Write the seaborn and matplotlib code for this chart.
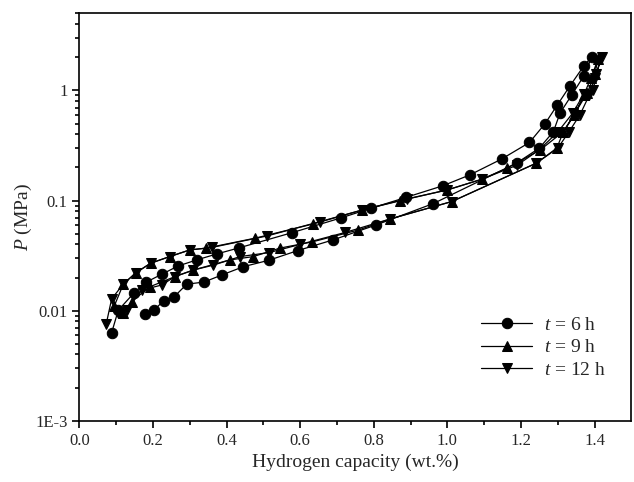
import pandas as pd
import numpy as np
import matplotlib
matplotlib.use('Agg')
import matplotlib.pyplot as plt
import seaborn as sns

# t = 6 h  (absorption branch then desorption branch, in drawing order)
x_6h = [0.088, 0.106, 0.148, 0.181, 0.224, 0.269, 0.319, 0.373, 0.434, 0.579, 0.711,
        0.792, 0.888, 0.987, 1.061, 1.147, 1.223, 1.265, 1.299, 1.333, 1.371, 1.392,
        1.371, 1.338, 1.306, 1.288, 1.250, 1.188, 0.962, 0.806, 0.690, 0.593, 0.515,
        0.446, 0.389, 0.339, 0.292, 0.258, 0.229, 0.203, 0.178]
p_6h = [0.0063, 0.0101, 0.0144, 0.0181, 0.0214, 0.0255, 0.0289, 0.0327, 0.0372, 0.0512, 0.0696,
        0.085, 0.107, 0.136, 0.171, 0.238, 0.337, 0.498, 0.741, 1.10, 1.68, 2.01,
        1.36, 0.913, 0.623, 0.423, 0.30, 0.219, 0.094, 0.060, 0.044, 0.0351, 0.0287,
        0.0251, 0.0212, 0.0182, 0.0174, 0.0134, 0.0123, 0.0101, 0.0093]

# t = 9 h
x_9h = [0.095, 0.120, 0.154, 0.194, 0.246, 0.300, 0.345, 0.477, 0.636, 0.768, 0.870,
        1.000, 1.093, 1.161, 1.252, 1.315, 1.350, 1.380, 1.400, 1.410,
        1.390, 1.370, 1.345, 1.315, 1.297, 1.242, 1.012, 0.844, 0.758, 0.631, 0.545,
        0.473, 0.409, 0.310, 0.260, 0.192, 0.142, 0.120]
p_9h = [0.0110, 0.0175, 0.0221, 0.0270, 0.0310, 0.0356, 0.0370, 0.0455, 0.0614, 0.082, 0.100,
        0.125, 0.156, 0.196, 0.288, 0.423, 0.65, 0.95, 1.40, 1.95,
        1.30, 0.90, 0.60, 0.42, 0.299, 0.219, 0.098, 0.068, 0.054, 0.042, 0.037,
        0.031, 0.0289, 0.0234, 0.0204, 0.0165, 0.0121, 0.0095]

# t = 12 h
x_12h = [0.073, 0.088, 0.120, 0.154, 0.194, 0.246, 0.300, 0.360, 0.509, 0.654, 0.768,
         0.890, 1.000, 1.093, 1.190, 1.250, 1.300, 1.340, 1.370, 1.396, 1.405, 1.419,
         1.400, 1.385, 1.360, 1.330, 1.300, 1.242, 1.012, 0.844, 0.722, 0.600, 0.516,
         0.437, 0.364, 0.310, 0.260, 0.224, 0.170, 0.129, 0.106]
p_12h = [0.0075, 0.0128, 0.0175, 0.0221, 0.0270, 0.0310, 0.0356, 0.0375, 0.0476, 0.0644, 0.082,
         0.103, 0.125, 0.156, 0.210, 0.29, 0.42, 0.62, 0.92, 1.01, 1.42, 2.01,
         1.30, 0.90, 0.60, 0.42, 0.30, 0.219, 0.098, 0.068, 0.0513, 0.040, 0.0337,
         0.031, 0.0259, 0.0234, 0.0204, 0.0171, 0.0154, 0.0101, 0.0095]

labels = ['$t$ = 6 h', '$t$ = 9 h', '$t$ = 12 h']

frames = []
for lab, xs, ps in zip(labels, [x_6h, x_9h, x_12h], [p_6h, p_9h, p_12h]):
    frames.append(pd.DataFrame({'x': xs, 'P': ps, 'series': lab, 'order': range(len(xs))}))
df = pd.concat(frames, ignore_index=True)

sns.set_style('ticks')
plt.rcParams['font.family'] = ['Liberation Serif', 'DejaVu Serif']
plt.rcParams['mathtext.fontset'] = 'custom'
plt.rcParams['mathtext.rm'] = 'Liberation Serif'
plt.rcParams['mathtext.it'] = 'Liberation Serif:italic'

fig = plt.figure(figsize=(6.34, 4.82), dpi=100)
ax = fig.add_axes([0.125, 0.127, 0.871, 0.845])

sns.lineplot(data=df, x='x', y='P', style='series', markers={labels[0]: 'o', labels[1]: '^', labels[2]: 'v'},
             dashes=False, sort=False, estimator=None, units='series', color='black',
             markersize=7.5, markeredgecolor='black', linewidth=0.9, ax=ax, legend=True)

ax.set_yscale('log')
ax.set_xlim(0, 1.5)
ax.set_ylim(1e-3, 5)
ax.set_xticks([0.0, 0.2, 0.4, 0.6, 0.8, 1.0, 1.2, 1.4])
ax.set_xticklabels(['0.0', '0.2', '0.4', '0.6', '0.8', '1.0', '1.2', '1.4'])
ax.set_xticks(np.arange(0.1, 1.5, 0.2), minor=True)
ax.set_yticks([1e-3, 1e-2, 1e-1, 1])
ax.set_yticklabels(['1E-3', '0.01', '0.1', '1'])
ax.tick_params(axis='both', which='major', direction='out', length=5, width=1.2, labelsize=12, color='black')
ax.tick_params(axis='both', which='minor', direction='out', length=3, width=1.2, color='black')
for s in ax.spines.values():
    s.set_linewidth(1.2)
    s.set_color('black')

ax.set_xlabel('Hydrogen capacity (wt.%)', fontsize=14)
ax.set_ylabel('$P$ (MPa)', fontsize=14, labelpad=1)

handles, labs = ax.get_legend_handles_labels()
ax.legend(handles, labs, loc='lower right', frameon=False, fontsize=14,
          handlelength=2.6, bbox_to_anchor=(0.985, 0.06), labelspacing=0.25, handletextpad=0.6)

fig.savefig('out.png', dpi=100)
